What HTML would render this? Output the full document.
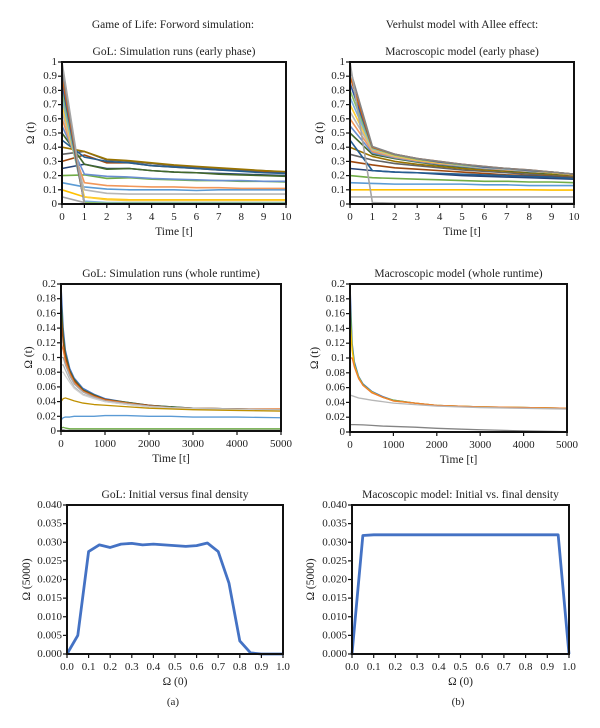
<!DOCTYPE html>
<html><head><meta charset="utf-8"><style>
body{margin:0;background:#fff;width:600px;height:728px;overflow:hidden}
svg{display:block;font-family:"Liberation Serif",serif;fill:#222}
</style></head><body>
<svg id="fig" width="600" height="728" viewBox="0 0 600 728" xmlns="http://www.w3.org/2000/svg"></svg>
<script>
// ---------- data ----------
const earlyT = [0,1,2,3,4,5,6,7,8,9,10];
const golEarly = [
 [0,0,0,0,0,0,0,0,0,0,0],
 [.05,.01,0,0,0,0,0,0,0,0,0],
 [.1,.05,.035,.03,.03,.03,.03,.03,.03,.03,.03],
 [.15,.12,.105,.1,.1,.1,.095,.1,.1,.1,.1],
 [.2,.205,.18,.185,.175,.17,.165,.165,.16,.16,.155],
 [.25,.28,.25,.25,.235,.225,.22,.215,.21,.205,.2],
 [.3,.345,.29,.29,.27,.26,.25,.24,.235,.225,.22],
 [.35,.37,.31,.3,.285,.27,.26,.25,.24,.235,.225],
 [.4,.37,.315,.305,.29,.275,.265,.255,.245,.235,.228],
 [.45,.33,.3,.29,.27,.26,.25,.24,.23,.22,.215],
 [.5,.28,.245,.25,.235,.225,.22,.21,.205,.2,.195],
 [.55,.21,.195,.19,.18,.175,.17,.165,.165,.16,.16],
 [.6,.15,.13,.125,.12,.12,.115,.115,.11,.11,.11],
 [.65,.1,.075,.07,.07,.07,.07,.07,.07,.07,.07],
 [.7,.05,.03,.025,.025,.025,.025,.025,.025,.025,.025],
 [.75,.02,.01,.01,.01,.01,.01,.01,.01,.01,.01],
 [.8,.01,.005,.005,.005,.005,.005,.005,.005,.005,.005],
 [.85,0,0,0,0,0,0,0,0,0,0],
 [.9,0,0,0,0,0,0,0,0,0,0],
 [.95,0,0,0,0,0,0,0,0,0,0],
 [1,0,0,0,0,0,0,0,0,0,0]
];
const macroEarly = [
 [0,0,0,0,0,0,0,0,0,0,0],
 [.05,.05,.05,.05,.05,.05,.05,.05,.05,.05,.05],
 [.1,.1,.1,.1,.1,.1,.1,.1,.1,.098,.098],
 [.15,.145,.14,.14,.14,.14,.135,.135,.13,.13,.13],
 [.2,.185,.18,.175,.17,.165,.16,.16,.155,.155,.15],
 [.25,.235,.225,.22,.21,.2,.195,.19,.185,.18,.175],
 [.3,.275,.255,.245,.235,.225,.215,.205,.2,.195,.185],
 [.35,.31,.285,.27,.255,.24,.23,.22,.21,.205,.195],
 [.4,.335,.3,.28,.265,.25,.24,.23,.22,.21,.2],
 [.45,.235,.225,.22,.215,.21,.205,.2,.195,.19,.18],
 [.5,.35,.32,.295,.275,.26,.25,.235,.225,.215,.205],
 [.55,.36,.325,.3,.28,.265,.25,.24,.23,.22,.205],
 [.6,.37,.33,.305,.285,.27,.255,.24,.23,.22,.205],
 [.65,.38,.335,.31,.29,.27,.255,.245,.23,.22,.208],
 [.7,.385,.34,.31,.29,.275,.26,.245,.235,.22,.208],
 [.75,.39,.345,.315,.295,.275,.26,.245,.235,.225,.21],
 [.8,.395,.345,.315,.295,.275,.26,.25,.235,.225,.21],
 [.85,.4,.35,.32,.295,.28,.26,.25,.235,.225,.21],
 [.9,.4,.35,.32,.3,.28,.265,.25,.24,.225,.21],
 [.95,.405,.35,.32,.3,.28,.265,.25,.24,.225,.21],
 [1,.01,.005,.005,.005,.005,.005,.005,.005,.005,.005]
];
const wholeT = [0,50,100,200,300,500,750,1000,1500,2000,2500,3000,4000,5000];
const golWhole = [
 [.2,.14,.11,.085,.072,.058,.05,.044,.039,.035,.033,.031,.03,.029],
 [.18,.13,.105,.082,.07,.056,.049,.043,.039,.035,.033,.031,.03,.029],
 [.16,.12,.1,.08,.068,.055,.048,.043,.038,.035,.032,.031,.03,.029],
 [.12,.11,.095,.078,.066,.054,.047,.042,.038,.034,.032,.031,.03,.03],
 [.1,.1,.09,.075,.064,.053,.046,.041,.037,.034,.032,.031,.03,.029],
 [.09,.09,.083,.07,.06,.05,.045,.04,.036,.033,.031,.03,.029,.028],
 [.08,.08,.075,.066,.058,.049,.044,.04,.036,.033,.031,.03,.029,.028],
 [.04,.044,.045,.043,.041,.038,.036,.035,.033,.031,.03,.029,.028,.027],
 [.015,.018,.019,.019,.02,.02,.02,.021,.021,.02,.02,.019,.019,.018],
 [.004,.005,.004,.003,.003,.003,.003,.003,.003,.003,.003,.003,.003,.003],
 [.002,.002,.001,.001,.001,.001,.001,.001,.001,.001,.001,.001,.001,.001]
];
const macroWhole = [
 [.2,.12,.095,.075,.065,.055,.048,.043,.039,.036,.035,.034,.033,.032],
 [.18,.115,.092,.074,.064,.054,.047,.043,.039,.036,.035,.034,.033,.032],
 [.15,.11,.09,.073,.063,.054,.047,.042,.039,.036,.035,.034,.033,.032],
 [.1,.1,.088,.072,.063,.053,.047,.042,.039,.036,.035,.034,.033,.032],
 [.05,.049,.048,.046,.045,.043,.041,.039,.037,.035,.034,.033,.032,.031],
 [.01,.01,.01,.0098,.0096,.009,.008,.0075,.0065,.005,.004,.003,.0015,.0005],
 [0,0,0,0,0,0,0,0,0,0,0,0,0,0]
];
const densX = [0,.05,.1,.15,.2,.25,.3,.35,.4,.45,.5,.55,.6,.65,.7,.75,.8,.85,.9,.95,1];
const golFinal = [0,.005,.0275,.0293,.0286,.0295,.0297,.0293,.0295,.0293,.0291,.0289,.0291,.0298,.0275,.019,.0035,.0003,0,0,0];
const macroFinal = [0,.0318,.032,.032,.032,.032,.032,.032,.032,.032,.032,.032,.032,.032,.032,.032,.032,.032,.032,.032,0];
const earlyYTicks = ["0","0.1","0.2","0.3","0.4","0.5","0.6","0.7","0.8","0.9","1"];
const earlyXTicks = ["0","1","2","3","4","5","6","7","8","9","10"];
const wholeYTicks = ["0","0.02","0.04","0.06","0.08","0.1","0.12","0.14","0.16","0.18","0.2"];
const wholeXTicks = ["0","1000","2000","3000","4000","5000"];
const densYTicks = ["0.000","0.005","0.010","0.015","0.020","0.025","0.030","0.035","0.040"];
const densXTicks = ["0.0","0.1","0.2","0.3","0.4","0.5","0.6","0.7","0.8","0.9","1.0"];
const palette = ["#ED7D31","#A5A5A5","#FFC000","#5B9BD5","#70AD47","#264478","#9E480E","#636363","#997300","#255E91","#43682B","#698ED0","#F1975A","#B7B7B7","#FFCD33","#7CAFDD","#8CC168","#335AA1","#D26012","#848484","#A5A5A5"];
const golWholeColors = ["#4472C4","#43682B","#9E480E","#ED7D31","#A5A5A5","#B7B7B7","#D0D0D0","#BF9000","#5B9BD5","#70AD47","#A5A5A5"];
const macroWholeColors = ["#4472C4","#70AD47","#FFC000","#ED7D31","#B7B7B7","#848484","#ED7D31"];

// ---------- drawing ----------
const NS="http://www.w3.org/2000/svg";
const fig=document.getElementById('fig');
function el(tag,attrs,parent){const e=document.createElementNS(NS,tag);for(const k in attrs)e.setAttribute(k,attrs[k]);(parent||fig).appendChild(e);return e;}
function txt(s,x,y,size,anchor,parent,rot){const t=el('text',{x:x,y:y,'font-size':size,'text-anchor':anchor||'middle','dominant-baseline':'central'},parent);if(rot)t.setAttribute('transform','rotate(-90 '+x+' '+y+')');t.textContent=s;return t;}

function chart(name,b,xmax,ymax,xTicks,yTicks,xs,seriesList,colors,lw,title,xlab,ylab,ylabX){
  const g=el('g',{});
  
  
  const sx=v=>b.x0+(b.x1-b.x0)*v/xmax, sy=v=>b.y1-(b.y1-b.y0)*v/ymax;
  const tt=txt(title,(b.x0+b.x1)/2,b.y0-10,11.5,'middle',g);
  
  
  const lines=el('g',{fill:'none'},g);
  
  
  seriesList.forEach((s,i)=>{
    const pts=s.map((v,j)=>sx(xs[j]).toFixed(2)+','+sy(v).toFixed(2)).join(' ');
    const p=el('polyline',{points:pts,stroke:colors[i%colors.length],'stroke-width':lw,'stroke-linejoin':'round'},lines);
    
    
  });
  const frame=el('rect',{x:b.x0,y:b.y0,width:b.x1-b.x0,height:b.y1-b.y0,fill:'none',stroke:'#111','stroke-width':2},g);
  
  
  const xg=el('g',{},g);
  
  
  xTicks.forEach((lab,i)=>{const x=b.x0+(b.x1-b.x0)*i/(xTicks.length-1);
    el('line',{x1:x,x2:x,y1:b.y1,y2:b.y1+4,stroke:'#111','stroke-width':1.2},xg);
    txt(lab,x,b.y1+13,11,'middle',xg);});
  const yg=el('g',{},g);
  
  
  yTicks.forEach((lab,i)=>{const y=b.y1-(b.y1-b.y0)*i/(yTicks.length-1);
    el('line',{x1:b.x0-4,x2:b.x0,y1:y,y2:y,stroke:'#111','stroke-width':1.2},yg);
    txt(lab,b.x0-5,y,11,'end',yg);});
  const xl=txt(xlab,(b.x0+b.x1)/2,b.y1+28,11.5,'middle',g);
  
  
  const yl=txt(ylab,ylabX,(b.y0+b.y1)/2,11.5,'middle',g,true);
  
  
}
const h1=txt("Game of Life: Forword simulation:",173,25,11.5);


const h2=txt("Verhulst model with Allee effect:",462,25,11.5);



chart('gol-early-chart',{x0:62,x1:286,y0:62,y1:204},10,1,earlyXTicks,earlyYTicks,earlyT,golEarly,palette,1.6,"GoL: Simulation runs (early phase)","Time [t]","Ω (t)",31);
chart('macro-early-chart',{x0:350,x1:574,y0:62,y1:204},10,1,earlyXTicks,earlyYTicks,earlyT,macroEarly,palette,1.6,"Macroscopic model (early phase)","Time [t]","Ω (t)",320);
chart('gol-whole-chart',{x0:61,x1:281,y0:284,y1:431},5000,0.2,wholeXTicks,wholeYTicks,wholeT,golWhole,golWholeColors,1.3,"GoL: Simulation runs (whole runtime)","Time [t]","Ω (t)",29);
chart('macro-whole-chart',{x0:350,x1:567,y0:284,y1:432},5000,0.2,wholeXTicks,wholeYTicks,wholeT,macroWhole,macroWholeColors,1.3,"Macroscopic model (whole runtime)","Time [t]","Ω (t)",315);
chart('gol-density-chart',{x0:67,x1:283,y0:505,y1:654},1,0.04,densXTicks,densYTicks,densX,[golFinal],["#4472C4"],2.8,"GoL: Initial versus final density","Ω (0)","Ω (5000)",27);
chart('macro-density-chart',{x0:352,x1:569,y0:505,y1:654},1,0.04,densXTicks,densYTicks,densX,[macroFinal],["#4472C4"],2.8,"Macoscopic model: Initial vs. final density","Ω (0)","Ω (5000)",311);

const la=txt("(a)",173,702,11);


const lb=txt("(b)",458,702,11);


</script>
</body></html>
